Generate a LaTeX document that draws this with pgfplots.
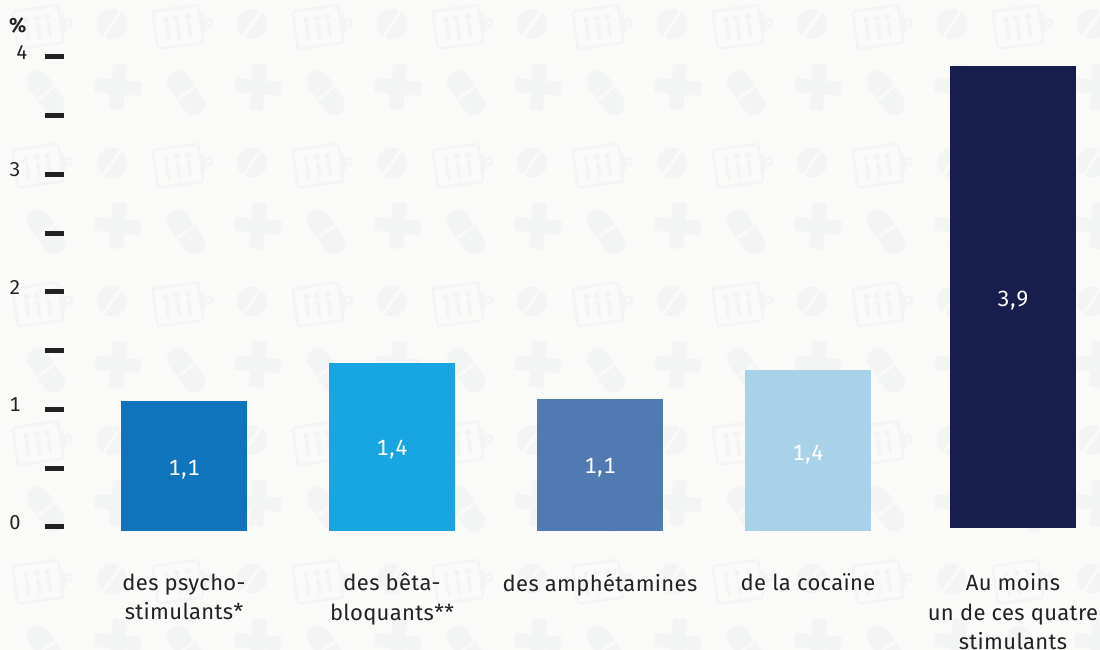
\documentclass[border=0pt]{standalone}
\usepackage{fontspec}
\setmainfont{Fira Sans}[Numbers={Tabular,Lining}]
\newfontfamily\lblfont{Fira Sans}[LetterSpace=1.5]
\newfontfamily\numfont{Fira Sans}[Numbers={Tabular,Lining},LetterSpace=3]
\usepackage{pgfplots}
\pgfplotsset{compat=1.18}
\definecolor{bgc}{HTML}{FAFAF8}
\definecolor{ic}{HTML}{F3F5F4}
\definecolor{txt}{HTML}{222222}
\definecolor{cA}{HTML}{1074BC}
\definecolor{cB}{HTML}{17A6E1}
\definecolor{cC}{HTML}{517AB2}
\definecolor{cD}{HTML}{A9D2E8}
\definecolor{cE}{HTML}{171E4E}
\pgfplotsset{
  bars/.style={scale only axis,width=1100pt,height=650pt,at={(0pt,0pt)},anchor=south west,
    xmin=0,xmax=1100,hide axis,clip=false,ybar,bar width=126pt},
}
\newcommand{\clipb}{%
  \begin{scope}[rotate=8]
    \draw[ic,line width=2.5pt,rounded corners=3pt] (-23,-19) rectangle (23,19);
    \fill[ic,rounded corners=1pt] (22,-9) rectangle (27,9);
    \draw[ic,line width=2pt] (31,0) circle (3.5);
    \foreach \q in {-11,0,11}{
      \fill[ic] (\q,9) circle (3);
      \draw[ic,line width=3.5pt,line cap=round] (\q,3) -- (\q,-11);
    }
  \end{scope}}
\newcommand{\tab}{%
  \fill[ic] (0,0) circle (15);
  \draw[bgc,line width=3pt] (-12,-17) -- (12,17);}
\newcommand{\pill}{%
  \begin{scope}[rotate=-55]
    \draw[ic,line width=22pt,line cap=round] (-14,0) -- (14,0);
    \draw[bgc,line width=2.5pt] (0,-13) -- (0,13);
  \end{scope}}
\newcommand{\plusicon}{%
  \begin{scope}[rotate=-5]
    \fill[ic,rounded corners=1pt] (-23,-7) rectangle (23,7);
    \fill[ic,rounded corners=1pt] (-7,-23) rectangle (7,23);
  \end{scope}}
\begin{document}
\begin{tikzpicture}[x=1pt,y=1pt]
\useasboundingbox (0,0) rectangle (1100,650);
\fill[bgc] (0,0) rectangle (1100,650);
\begin{scope}
\clip (0,0) rectangle (1100,650);
\foreach \r in {0,...,4}{
  \foreach \c in {0,...,7}{
    \pgfmathsetmacro{\X}{\c*140}
    \pgfmathsetmacro{\Y}{650-\r*138.7}
    \begin{scope}[shift={(\X,\Y)}]
      \begin{scope}[shift={(38,-27)}]\clipb\end{scope}
      \begin{scope}[shift={(112,-24)}]\tab\end{scope}
      \begin{scope}[shift={(46,-93)}]\pill\end{scope}
      \begin{scope}[shift={(118,-87)}]\plusicon\end{scope}
    \end{scope}
  }
}
\end{scope}
% ticks and labels
\begin{axis}[scale only axis,width=1036pt,height=650pt,at={(64pt,0pt)},anchor=south west,
  xmin=64,xmax=1100,ymin=-1.0468,ymax=4.4851,clip=false,
  axis lines*=left,axis line style={draw=none},
  ytick={0,0.5,1,1.5,2,2.5,3,3.5,4},
  yticklabels={0,,1,,2,,3,,{4\hspace*{-7pt}}},
  y tick style={line width=5pt,color=txt},
  major tick length=19pt,tick align=outside,
  yticklabel style={font=\numfont\fontsize{20}{24}\selectfont,text=txt,xshift=-21pt,yshift=4.5pt},
  xtick={184,392,600,808,1013},
  x tick style={draw=none},
  xticklabels={{des psycho-\\stimulants*},{des bêta-\\bloquants**},{des amphétamines},{de la cocaïne},{Au moins\\un de ces quatre\\stimulants}},
  xticklabel style={font=\lblfont\fontsize{22}{29.5}\selectfont,text=txt,align=center,yshift=99pt},
]
\node[font=\fontsize{20}{24}\selectfont\bfseries,text=txt] at (axis cs:18,4.27) {\%};
\end{axis}
% four bars, baseline at 531 px
\begin{axis}[bars,ymin=-1.0128,ymax=4.5191]
\addplot[ybar,bar shift=0pt,fill=cA,draw=none] coordinates {(184,1.106)};
\addplot[ybar,bar shift=0pt,fill=cB,draw=none] coordinates {(392,1.43)};
\addplot[ybar,bar shift=0pt,fill=cC,draw=none] coordinates {(600,1.123)};
\addplot[ybar,bar shift=0pt,fill=cD,draw=none] coordinates {(808,1.37)};
\end{axis}
% last bar, baseline at 528 px
\begin{axis}[bars,ymin=-1.0383,ymax=4.4936]
\addplot[ybar,bar shift=0pt,fill=cE,draw=none] coordinates {(1013,3.93)};
\end{axis}
% value labels
\begin{axis}[scale only axis,width=1100pt,height=650pt,at={(0pt,0pt)},anchor=south west,
  xmin=0,xmax=1100,ymin=-1.0468,ymax=4.4851,hide axis,clip=false]
\addplot[draw=none,mark=none,nodes near coords,point meta=explicit symbolic,
  every node near coord/.style={anchor=center,text=white,font=\numfont\fontsize{22}{24}\selectfont}]
  table[meta=label] {
x y label
184 0.49 {1,1}
392 0.66 {1,4}
600 0.50 {1,1}
808 0.62 {1,4}
1013 1.925 {3,9}
};
\end{axis}
\end{tikzpicture}
\end{document}
